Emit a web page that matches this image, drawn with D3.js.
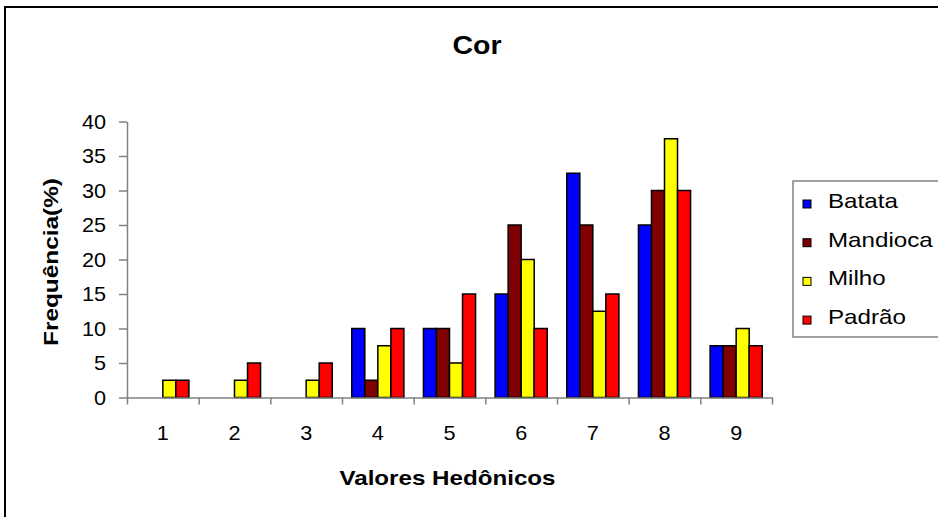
<!DOCTYPE html>
<html>
<head>
<meta charset="utf-8">
<script src="https://cdn.jsdelivr.net/npm/d3@7"></script>
<style>
  body { margin: 0; background: #fff; }
  text { font-family: "Liberation Sans", Arial, sans-serif; fill: #000; }
</style>
</head>
<body>
<div class="container"></div>
<script>
var categories = ['1', '2', '3', '4', '5', '6', '7', '8', '9'];
var seriesNames = ['Batata', 'Mandioca', 'Milho', 'Padrão'];
var batata   = [0, 0, 0, 10, 10, 15, 32.5, 25, 7.5];
var mandioca = [0, 0, 0, 2.5, 10, 25, 25, 30, 7.5];
var milho    = [2.5, 2.5, 2.5, 7.5, 5, 20, 12.5, 37.5, 10];
var padrao   = [2.5, 5, 5, 10, 15, 10, 15, 30, 7.5];
var yTicks = [0, 5, 10, 15, 20, 25, 30, 35, 40];
var colors = ['#0000ff', '#800000', '#ffff00', '#ff0000'];

const WIDTH = 938;
const HEIGHT = 517;
const LEFT = 127, RIGHT = 772, TOP = 121.5, BOTTOM = 397.5;

var translate = function (x, y) {
  return 'translate(' + x + ',' + y + ')';
};

// the reference text is drawn wider than plain Arial
var stretch = function (sel, k) {
  sel.each(function () {
    var w = this.getComputedTextLength();
    d3.select(this).attr('textLength', w * k).attr('lengthAdjust', 'spacingAndGlyphs');
  });
};

var svg = d3.select('.container').append('svg')
  .attr('width', WIDTH)
  .attr('height', HEIGHT);

// outer chart border
svg.append('rect')
  .attr('x', 5).attr('y', 7)
  .attr('width', 1000).attr('height', 600)
  .attr('fill', 'none').attr('stroke', '#000').attr('stroke-width', 2);

var x0 = d3.scaleBand().domain(categories).range([LEFT, RIGHT]);
var x1 = d3.scaleBand().domain(seriesNames).range([0, x0.bandwidth()]).paddingOuter(0.75);
var xEdge = d3.scaleLinear().domain([0, categories.length]).range([LEFT, RIGHT]);
var y = d3.scaleLinear().domain([0, 40]).range([BOTTOM, TOP]);

var table = categories.map(function (c, i) {
  return {cat: c, vals: [batata[i], mandioca[i], milho[i], padrao[i]]};
});

// bars
var groups = svg.append('g').selectAll('g')
  .data(table)
  .enter().append('g')
  .attr('transform', function (d) { return translate(x0(d.cat), 0); });

groups.selectAll('rect')
  .data(function (d) { return d.vals.map(function (v, j) { return {name: seriesNames[j], v: v, j: j}; }); })
  .enter().filter(function (d) { return d.v > 0; })
  .append('rect')
  .attr('x', function (d) { return x1(d.name); })
  .attr('y', function (d) { return y(d.v); })
  .attr('width', x1.bandwidth())
  .attr('height', function (d) { return BOTTOM - y(d.v); })
  .attr('fill', function (d) { return colors[d.j]; })
  .attr('stroke', '#000')
  .attr('stroke-width', 1.5);

// y axis
var yAxis = svg.append('g')
  .attr('transform', translate(LEFT, 0))
  .call(d3.axisLeft(y).tickValues(yTicks).tickSize(8).tickSizeOuter(0).tickPadding(13));
yAxis.selectAll('text').attr('font-size', 21).call(stretch, 1.03);

// x axis: boundary ticks
var xAxis = svg.append('g')
  .attr('transform', translate(0, BOTTOM))
  .call(d3.axisBottom(xEdge).ticks(categories.length).tickFormat('').tickSize(7).tickSizeOuter(0));

// x axis: category labels
var xLabels = svg.append('g')
  .attr('transform', translate(0, BOTTOM))
  .call(d3.axisBottom(x0).tickSize(0).tickPadding(28));
xLabels.select('.domain').remove();
xLabels.selectAll('text').attr('font-size', 21).call(stretch, 1.03);

svg.selectAll('.domain, .tick line')
  .attr('stroke', '#808080')
  .attr('stroke-width', 1.5);

// titles
svg.append('text')
  .attr('x', 477).attr('y', 54)
  .attr('text-anchor', 'middle')
  .attr('font-size', 25).attr('font-weight', 'bold')
  .text('Cor')
  .call(stretch, 1.14);

svg.append('text')
  .attr('x', (LEFT + RIGHT) / 2 - 2).attr('y', 485)
  .attr('text-anchor', 'middle')
  .attr('font-size', 21).attr('font-weight', 'bold')
  .text('Valores Hedônicos')
  .call(stretch, 1.15);

svg.append('text')
  .attr('transform', translate(58, 262) + ' rotate(-90)')
  .attr('text-anchor', 'middle')
  .attr('font-size', 21).attr('font-weight', 'bold')
  .text('Frequência(%)')
  .call(stretch, 1.16);

// legend
var legend = svg.append('g').attr('transform', translate(793, 181));
legend.append('rect')
  .attr('width', 200).attr('height', 156)
  .attr('fill', '#fff').attr('stroke', '#808080').attr('stroke-width', 1.5);

var items = legend.selectAll('.item')
  .data(seriesNames)
  .enter().append('g')
  .attr('class', 'item')
  .attr('transform', function (d, i) { return translate(0, 27 + i * 38.7); });

items.append('rect')
  .attr('x', 10).attr('y', -8)
  .attr('width', 8).attr('height', 8)
  .attr('fill', function (d, i) { return colors[i]; })
  .attr('stroke', '#000').attr('stroke-width', 1);

items.append('text')
  .attr('x', 35).attr('y', 0)
  .attr('font-size', 21)
  .text(function (d) { return d; })
  .call(stretch, 1.15);
</script>
</body>
</html>
